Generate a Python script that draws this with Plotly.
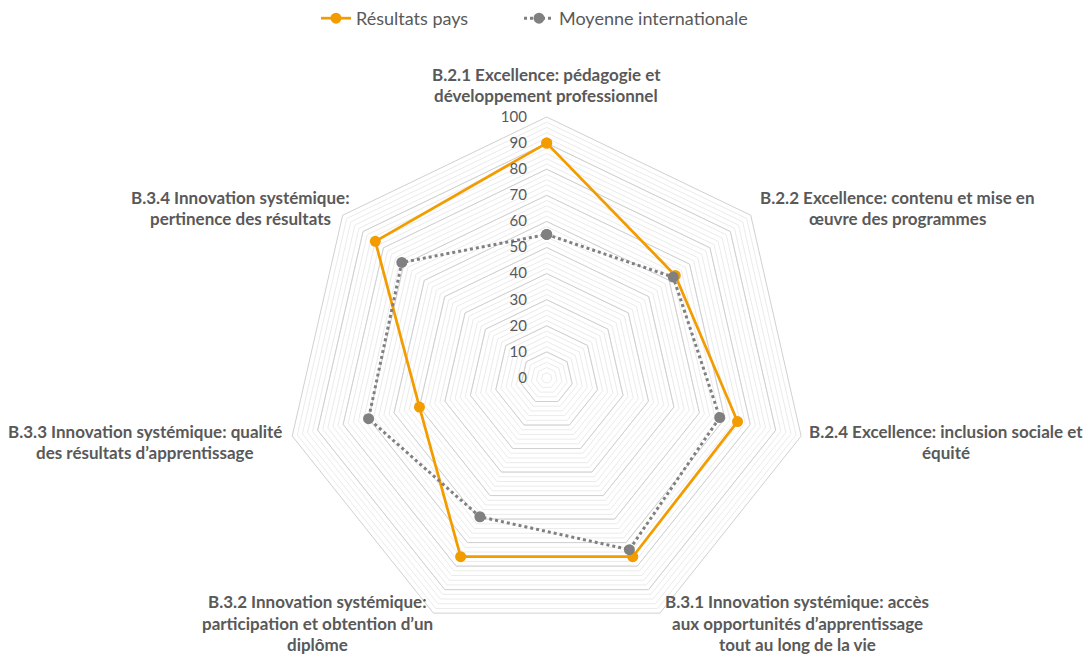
import plotly.graph_objects as go

categories = [
    "B.2.1 Excellence: pédagogie et<br>développement professionnel",
    "B.2.2 Excellence: contenu et mise en<br>œuvre des programmes",
    "B.2.4 Excellence: inclusion sociale et<br>équité",
    "B.3.1 Innovation systémique: accès<br>aux opportunités d’apprentissage<br>tout au long de la vie",
    "B.3.2 Innovation systémique:<br>participation et obtention d’un<br>diplôme",
    "B.3.3 Innovation systémique: qualité<br>des résultats d’apprentissage",
    "B.3.4 Innovation systémique:<br>pertinence des résultats",
]
keys = ["c%d" % i for i in range(len(categories))]
resultats_pays = [90, 63, 75, 76, 76, 50, 84]
moyenne_internationale = [55, 62, 68, 73, 59, 70, 71]
radial_ticks = [0, 10, 20, 30, 40, 50, 60, 70, 80, 90, 100]

# label centres in pixels (layout only)
label_pos = [(546, 85), (897, 208), (946, 442), (797, 623), (317, 623), (145, 442), (240, 208)]
LINE_H = 21.5

W, H = 1085, 656
cx, cy, R = 546.7, 378.0, 261.0
dom_x = [(cx - R) / W, (cx + R) / W]
dom_y = [1 - (cy + R) / H, 1 - (cy - R) / H]

GREY_TXT = "#595959"
ORANGE = "#F39C00"
GREY = "#808080"
FONT = "Lato, Open Sans, sans-serif"

fig = go.Figure()

def closed(v):
    return list(v) + [v[0]]

# invisible trace so that the minor-grid subplot is drawn
fig.add_trace(go.Scatterpolar(r=[0], theta=[keys[0]], mode="markers", marker=dict(opacity=0),
                              showlegend=False, hoverinfo="skip", subplot="polar"))
fig.add_trace(go.Scatterpolar(
    r=closed(resultats_pays), theta=closed(keys), name="Résultats pays",
    mode="lines+markers", line=dict(color=ORANGE, width=2.75),
    marker=dict(color=ORANGE, size=11), subplot="polar2", legend="legend"))
fig.add_trace(go.Scatterpolar(
    r=closed(moyenne_internationale), theta=closed(keys), name="Moyenne internationale",
    mode="lines+markers", line=dict(color=GREY, width=3, dash="dot"),
    marker=dict(color=GREY, size=11), subplot="polar2", legend="legend2"))

common_ang = dict(type="category", categoryarray=keys, direction="clockwise", rotation=90,
                  showgrid=False, showticklabels=False, ticks="")

leg_common = dict(orientation="h", xanchor="left", y=1.0, yanchor="top",
                  font=dict(size=18, color=GREY_TXT, family=FONT), bgcolor="rgba(0,0,0,0)")

fig.update_layout(
    width=W, height=H, paper_bgcolor="white", plot_bgcolor="white",
    margin=dict(l=0, r=0, t=0, b=0, autoexpand=False),
    font=dict(family=FONT, color=GREY_TXT),
    showlegend=True,
    legend=dict(x=316 / W, **leg_common),
    legend2=dict(x=519 / W, **leg_common),
    polar=dict(
        domain=dict(x=dom_x, y=dom_y), gridshape="linear", bgcolor="rgba(0,0,0,0)",
        radialaxis=dict(range=[0, 100], dtick=2, tick0=0, showticklabels=False, ticks="",
                        showline=False, gridcolor="#ebebeb", gridwidth=1, angle=90),
        angularaxis=dict(**common_ang, showline=False),
    ),
    polar2=dict(
        domain=dict(x=dom_x, y=dom_y), gridshape="linear", bgcolor="rgba(0,0,0,0)",
        radialaxis=dict(range=[0, 100], tickvals=radial_ticks, showticklabels=True,
                        ticks="outside", ticklen=14, tickcolor="rgba(0,0,0,0)",
                        showline=False, gridcolor="#d0d0d0", gridwidth=1, angle=90,
                        tickangle=90, side="counterclockwise",
                        tickfont=dict(size=15, color=GREY_TXT, family=FONT)),
        angularaxis=dict(**common_ang, showline=True, linecolor="#d0d0d0", linewidth=1),
    ),
)

for text, (px, py) in zip(categories, label_pos):
    lines = text.split("<br>")
    n = len(lines)
    for i, ln in enumerate(lines):
        yy = py + (i - (n - 1) / 2) * LINE_H
        fig.add_annotation(text="<b>%s</b>" % ln, x=px / W, y=1 - yy / H, xref="paper", yref="paper",
                           xanchor="center", yanchor="middle", showarrow=False, align="center",
                           font=dict(size=17, color=GREY_TXT, family=FONT))

fig.write_html("out.html", config={"displayModeBar": False},
               post_script="document.body.style.margin='0';")
